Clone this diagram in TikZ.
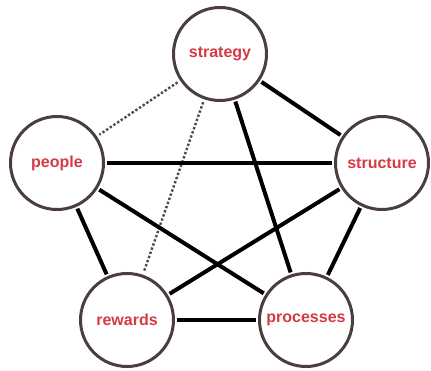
\documentclass[tikz,border=0pt]{standalone}
\usepackage{fontspec}
\setmainfont{Liberation Sans}
\begin{document}
\begin{tikzpicture}[x=1pt,y=-1pt,
  ring/.style={circle,draw=ringcol,line width=3pt,fill=white,minimum size=93pt,inner sep=0pt,
    font=\fontsize{16}{17}\selectfont\bfseries,text=labred},
  link/.style={line width=4pt,black,shorten <=2pt,shorten >=2pt},
  weak/.style={line width=2.4pt,gray!60!black,dotted,shorten <=3pt,shorten >=3pt}]
\definecolor{ringcol}{HTML}{4A3E3E}
\definecolor{labred}{HTML}{D63A44}
\useasboundingbox (0,0) rectangle (431,371);
\coordinate (cs) at (220,54);
\coordinate (cp) at (57,163);
\coordinate (ct) at (382,163);
\coordinate (cr) at (127,320);
\coordinate (cq) at (306,320);
\path (cs) node[ring] (strategy) {strategy}
      (cp) node[ring] (people) {people}
      (ct) node[ring] (structure) {structure}
      (cr) node[ring] (rewards) {rewards}
      (cq) node[ring] (processes) {processes};
\draw[weak] (strategy) -- (people);
\draw[weak] (strategy) -- (rewards);
\draw[link] (strategy) -- (structure);
\draw[link] (strategy) -- (processes);
\draw[link] (people) -- (structure);
\draw[link] (people) -- (processes);
\draw[link] (people) -- (rewards);
\draw[link] (structure) -- (rewards);
\draw[link] (structure) -- (processes);
\draw[link] (rewards) -- (processes);
\end{tikzpicture}
\end{document}
